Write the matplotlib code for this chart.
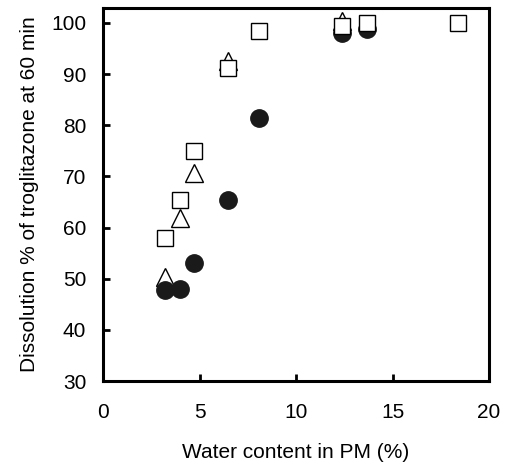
import matplotlib
matplotlib.use("Agg")
import matplotlib.pyplot as plt

plt.rcParams['font.family'] = ['Liberation Sans', 'DejaVu Sans']

# circles (filled)
circ_x = [3.2, 4.0, 4.7, 6.5, 8.1, 12.4, 13.7]
circ_y = [47.8, 47.9, 53.1, 65.3, 81.5, 98.0, 98.8]
# triangles (open)
tri_x = [3.2, 4.0, 4.7, 6.5, 12.4]
tri_y = [50.4, 61.8, 70.6, 92.5, 100.3]
# squares (open)
sq_x = [3.2, 4.0, 4.7, 6.5, 8.1, 12.4, 13.7, 18.4]
sq_y = [58.0, 65.3, 74.9, 91.1, 98.5, 99.3, 100.0, 100.0]

xticks = [0, 5, 10, 15, 20]
yticks = [30, 40, 50, 60, 70, 80, 90, 100]

fig = plt.figure(figsize=(5.11, 4.66), dpi=100)
ax = fig.add_axes([0.2016, 0.1824, 0.7554, 0.8004])

ax.plot(tri_x, tri_y, linestyle='none', marker='^', markersize=13,
        markerfacecolor='white', markeredgecolor='black', markeredgewidth=1.0, zorder=3)
ax.plot(circ_x, circ_y, linestyle='none', marker='o', markersize=12.5,
        markerfacecolor='#1a1a1a', markeredgecolor='#1a1a1a', zorder=4)
ax.plot(sq_x, sq_y, linestyle='none', marker='s', markersize=11.5,
        markerfacecolor='white', markeredgecolor='black', markeredgewidth=1.0, zorder=5)

ax.set_xlim(0, 20)
ax.set_ylim(30, 102.9)
ax.set_xticks(xticks)
ax.set_yticks(yticks)
ax.tick_params(direction='in', length=5, width=2, labelsize=15)
ax.tick_params(axis='x', pad=16)
ax.tick_params(axis='y', pad=12)
for s in ax.spines.values():
    s.set_linewidth(2.2)

ax.set_xlabel('Water content in PM (%)', fontsize=15, labelpad=15)
ax.set_ylabel('Dissolution % of troglitazone at 60 min', fontsize=15, labelpad=9)

fig.savefig('out.png', dpi=100)
